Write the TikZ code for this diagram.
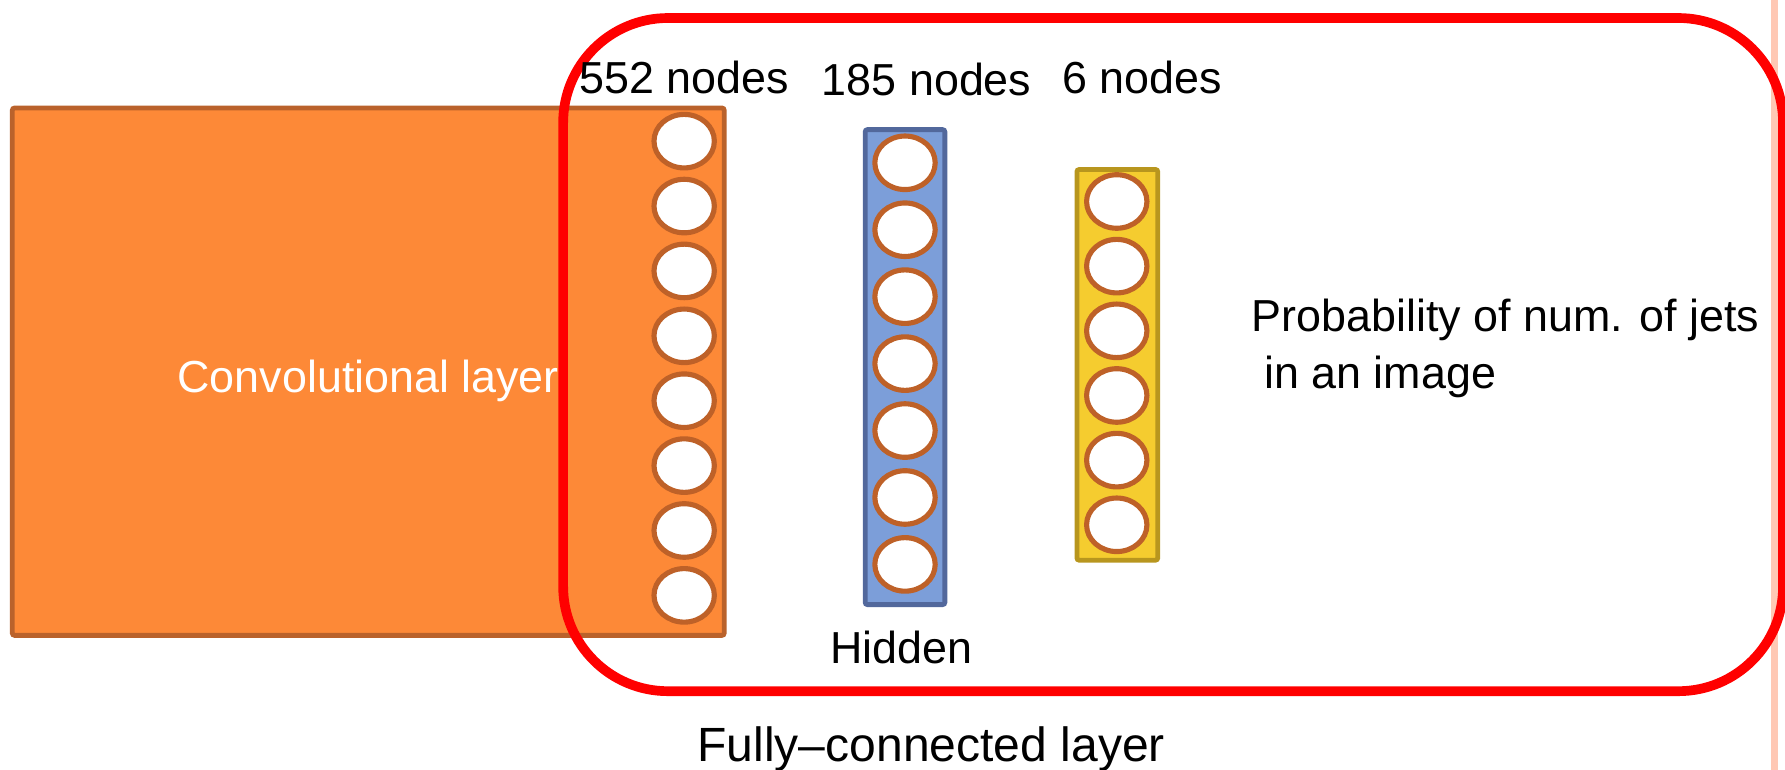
\documentclass[tikz,border=0pt]{standalone}
\usepackage{fontspec}
\setmainfont{Liberation Sans}
\usetikzlibrary{shapes.geometric}
\definecolor{orfill}{HTML}{FD8937}
\definecolor{ordraw}{HTML}{BA622B}
\definecolor{bufill}{HTML}{7C9ED9}
\definecolor{budraw}{HTML}{52689C}
\definecolor{yefill}{HTML}{F5CC2F}
\definecolor{yedraw}{HTML}{B8961E}
\definecolor{ringcol}{HTML}{BE6128}
\definecolor{pinkline}{HTML}{FFC8B4}
\tikzset{
  txt/.style={font=\fontsize{11.2}{13.4}\selectfont, inner sep=0pt, anchor=base},
  layerbox/.style={rectangle, inner sep=0pt, line width=0.042cm, rounded corners=0.02cm},
  neuron/.style={ellipse, draw=ringcol, fill=white, line width=0.045cm, inner sep=0pt,
                 minimum width=0.53cm, minimum height=0.47cm},
  frame/.style={rectangle, draw=red, line width=0.085cm, rounded corners=0.92cm, inner sep=0pt}
}
\begin{document}
\begin{tikzpicture}[x=0.01cm,y=-0.01cm]
\useasboundingbox (0,0) rectangle (1568,676);
% pink guide line at right
\coordinate (pt) at (1559,0);
\coordinate (pb) at (1559,676);
\draw[pinkline, line width=0.06cm] (pt) -- (pb);
% convolutional layer block
\node[layerbox, draw=ordraw, fill=orfill, minimum width=6.25cm, minimum height=4.63cm] (conv) at (323.5,326.5) {};
\node[txt, text=white] (convlbl) at (323.5,345) {Convolutional layer};
% fully connected frame
\node[frame, minimum width=10.71cm, minimum height=5.91cm] (fc) at (1030.5,311.5) {};
% 552 column
\foreach \i in {0,...,7} {
  \node[neuron] (a\i) at (601,{124+57*\i}) {};
}
% hidden layer
\node[layerbox, draw=budraw, fill=bufill, minimum width=0.70cm, minimum height=4.17cm] (hid) at (795,322.5) {};
\foreach \i in {0,...,6} {
  \node[neuron] (h\i) at (795,{143+58.8*\i}) {};
}
% output layer
\node[layerbox, draw=yedraw, fill=yefill, minimum width=0.71cm, minimum height=3.43cm] (outl) at (981.5,320.5) {};
\foreach \i in {0,...,5} {
  \node[neuron] (y\i) at (981,{177+56.8*\i}) {};
}
% labels
\node[txt] (l552) at (601,82) {552 nodes};
\node[txt] (l185) at (814,84) {185 nodes};
\node[txt] (l6) at (1003,82) {6 nodes};
\node[txt] (lhid) at (792,583) {Hidden};
\node[txt, font=\fontsize{12}{14}\selectfont] (lfc) at (818,669) {Fully–connected layer};
\node[txt, anchor=base west] (lprob1) at (1099,291) {Probability of num. of jets};
\node[txt, anchor=base west] (lprob2) at (1099,341) {\ in an image};
\end{tikzpicture}
\end{document}
